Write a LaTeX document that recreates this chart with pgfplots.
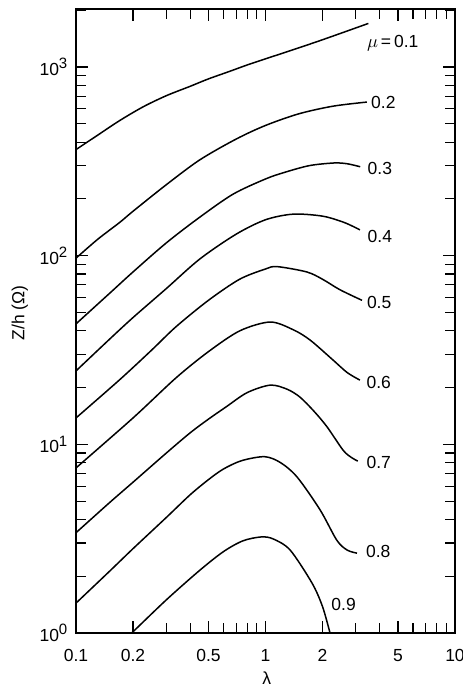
\documentclass[border=0pt]{standalone}
\usepackage{fontspec}
\setmainfont{Liberation Sans}
\usepackage{pgfplots}
\pgfplotsset{compat=1.18}

% one curve per mu
\pgfplotstableread{
x y
0.1 365
0.13 435
0.17 520
0.226 615
0.3 705
0.4 790
0.5 865
0.65 950
0.8 1025
1.0 1105
1.3 1205
1.86 1360
2.5 1510
3.49 1702
}\muA
\pgfplotstableread{
x y
0.1 97
0.13 122
0.17 150
0.2 172
0.3 238
0.45 322
0.7 415
1.0 490
1.5 565
2.27 620
3.43 652
}\muB
\pgfplotstableread{
x y
0.1 43.5
0.15 63
0.2 82
0.3 117
0.45 160
0.675 212
1.0 255
1.24 275
1.7 300
2.3 310
2.7 307
3.16 296
}\muC
\pgfplotstableread{
x y
0.1 24.5
0.15 36
0.2 47
0.3 67
0.45 96
0.7 130
1.0 155
1.4 166
2.0 162
2.6 150
3.15 137
}\muD
\pgfplotstableread{
x y
0.1 13.8
0.17 22
0.25 31.5
0.337 42
0.5 58
0.73 75
1.0 85
1.15 87.5
1.65 82
2.0 75
2.47 66
3.23 58
}\muE
\pgfplotstableread{
x y
0.1 7.5
0.2 13.8
0.337 22.5
0.5 31
0.733 40
1.06 44.5
1.4 40.5
1.72 35.7
2.27 28
2.7 24
3.15 21.9
}\muF
\pgfplotstableread{
x y
0.1 3.4
0.15 4.9
0.2 6.3
0.3 9.0
0.4 11.5
0.5 13.6
0.62 15.8
0.8 18.8
1.06 20.6
1.3 19.6
1.52 17.8
1.8 15
2.11 12.4
2.57 9.3
2.85 8.5
3.07 8.15
}\muG
\pgfplotstableread{
x y
0.1 1.44
0.15 2.12
0.2 2.8
0.3 4.1
0.4 5.4
0.5 6.5
0.6 7.4
0.75 8.2
0.99 8.6
1.2 8.0
1.47 6.7
1.94 4.5
2.38 3.1
2.7 2.75
3.04 2.65
}\muH
\pgfplotstableread{
x y
0.197 1.0
0.3 1.5
0.45 2.15
0.6 2.7
0.76 3.08
0.95 3.23
1.1 3.15
1.35 2.75
1.76 1.84
2.0 1.38
2.19 1.0
}\muI

\begin{document}
\fontsize{10.5}{12}\selectfont
\begin{tikzpicture}
\begin{axis}[
    xmode=log, ymode=log,
    scale only axis, width=227.4pt, height=374.4pt,
    xmin=0.1, xmax=10, ymin=1, ymax=2030,
    xtick={0.1,0.2,0.5,1,2,5,10}, xticklabels={0.1,0.2,0.5,1,2,5,10},
    minor xtick={0.3,0.4,0.6,0.7,0.8,0.9,3,4,6,7,8,9},
    ytick={1,10,100,1000},
    yticklabels={10\textsuperscript{\small 0},10\textsuperscript{\small 1},10\textsuperscript{\small 2},10\textsuperscript{\small 3}},
    minor ytick={2,3,4,5,6,7,8,9,20,30,40,50,60,70,80,90,200,300,400,500,600,700,800,900,2000},
    tick align=inside, major tick length=7pt, minor tick length=6pt,
    tick style={black, line width=0.7pt},
    axis line style={line width=0.9pt},
    xticklabel style={yshift=-6pt},
    yticklabel style={xshift=-1pt},
    xlabel={λ}, ylabel={Z/h (Ω)},
    xlabel style={at={(axis description cs:0.503,-0.073)}, anchor=center},
    ylabel style={at={(axis description cs:-0.148,0.513)}, anchor=center},
    cycle list={{black, solid}},
    every axis plot/.append style={line width=0.9pt, smooth, no marks},
]
\addplot table[x=x, y=y] {\muA};
\addplot table[x=x, y=y] {\muB};
\addplot table[x=x, y=y] {\muC};
\addplot table[x=x, y=y] {\muD};
\addplot table[x=x, y=y] {\muE};
\addplot table[x=x, y=y] {\muF};
\addplot table[x=x, y=y] {\muG};
\addplot table[x=x, y=y] {\muH};
\addplot table[x=x, y=y] {\muI};

\node[anchor=west, inner sep=0pt] at (axis cs:3.42,1340) {$\mu$\,=\,0.1};
\node[anchor=west, inner sep=0pt] at (axis cs:3.6,652) {0.2};
\node[anchor=west, inner sep=0pt] at (axis cs:3.45,291) {0.3};
\node[anchor=west, inner sep=0pt] at (axis cs:3.45,126) {0.4};
\node[anchor=west, inner sep=0pt] at (axis cs:3.42,56.8) {0.5};
\node[anchor=west, inner sep=0pt] at (axis cs:3.4,21.4) {0.6};
\node[anchor=west, inner sep=0pt] at (axis cs:3.4,8.06) {0.7};
\node[anchor=west, inner sep=0pt] at (axis cs:3.38,2.69) {0.8};
\node[anchor=west, inner sep=0pt] at (axis cs:2.22,1.41) {0.9};
\end{axis}
\pgfresetboundingbox
\path ([xshift=-45.6pt,yshift=-32.4pt]current axis.south west) rectangle ([xshift=4.8pt,yshift=5.4pt]current axis.north east);
\end{tikzpicture}
\end{document}
